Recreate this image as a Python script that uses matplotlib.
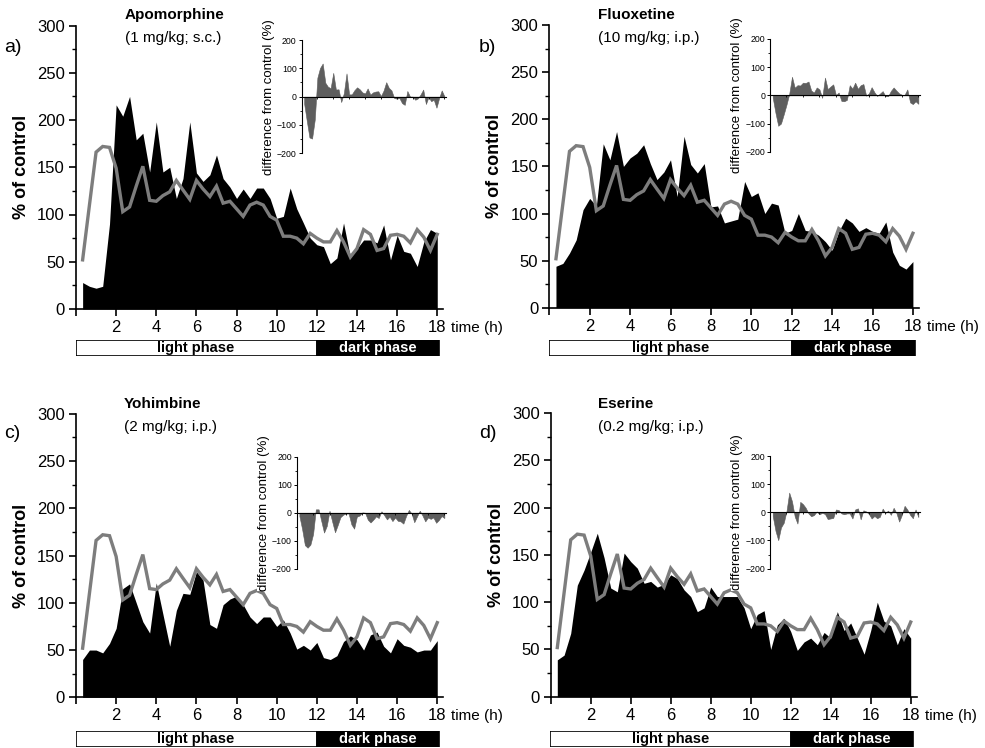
import numpy as np
import matplotlib
matplotlib.use("Agg")
import matplotlib.pyplot as plt
from matplotlib.ticker import MultipleLocator

plt.rcParams['font.family'] = ['Liberation Sans', 'DejaVu Sans']

# ---------------- data ----------------
time_h = [round(0.3333 * (i + 1), 2) for i in range(54)]

control = [52, 110, 166, 172, 171, 149, 103, 108, 130, 151, 115, 114, 120, 124, 136, 126,
           116, 136, 127, 119, 130, 112, 114, 106, 98, 110, 113, 110, 98, 94, 77, 77,
           75, 69, 80, 75, 71, 71, 83, 71, 55, 64, 84, 79, 62, 64, 78, 79, 77, 70,
           84, 76, 62, 79]

apomorphine = [28, 24, 22, 24, 90, 216, 204, 225, 179, 186, 145, 198, 145, 150, 117, 138,
               198, 144, 135, 142, 163, 138, 129, 117, 127, 117, 128, 128, 117, 96, 98, 128,
               106, 91, 75, 68, 66, 48, 54, 91, 55, 64, 73, 73, 70, 89, 52, 78, 61, 59,
               45, 71, 84, 80]

fluoxetine = [44, 47, 58, 72, 104, 116, 108, 174, 157, 187, 150, 159, 164, 173, 153, 136,
              144, 157, 118, 182, 152, 143, 153, 107, 108, 90, 92, 94, 134, 118, 122, 100,
              111, 109, 79, 82, 100, 82, 81, 77, 70, 61, 81, 95, 90, 81, 85, 81, 79, 91,
              59, 45, 41, 49]

yohimbine = [40, 50, 50, 47, 57, 73, 115, 120, 100, 80, 68, 121, 88, 54, 92, 110,
             109, 133, 124, 77, 73, 98, 104, 107, 98, 85, 78, 85, 85, 75, 82, 68,
             51, 55, 50, 58, 42, 40, 44, 59, 65, 61, 50, 66, 69, 54, 47, 62, 55, 53,
             48, 50, 50, 60]

eserine = [39, 44, 67, 118, 134, 153, 173, 147, 115, 111, 152, 143, 136, 120, 122, 116,
           119, 129, 125, 113, 106, 90, 94, 116, 106, 106, 106, 106, 94, 72, 87, 91,
           50, 76, 83, 69, 49, 58, 62, 55, 68, 62, 90, 70, 78, 62, 45, 70, 100, 80,
           75, 55, 72, 62]

panel_letters = ['a)', 'b)', 'c)', 'd)']
drug_names = ['Apomorphine', 'Fluoxetine', 'Yohimbine', 'Eserine']
doses = ['(1 mg/kg; s.c.)', '(10 mg/kg; i.p.)', '(2 mg/kg; i.p.)', '(0.2 mg/kg; i.p.)']
drug_series = [apomorphine, fluoxetine, yohimbine, eserine]
y_ticks = [0, 50, 100, 150, 200, 250, 300]
x_ticks = [0, 2, 4, 6, 8, 10, 12, 14, 16, 18]
x_tick_labels = ['', '2', '4', '6', '8', '10', '12', '14', '16', '18']
inset_ticks = [-200, -100, 0, 100, 200]

# ---------------- layout (pixels) ----------------
W, H = 985, 748
fig = plt.figure(figsize=(W / 100, H / 100), dpi=100)


def add_ax(x0, x1, ytop, ybot):
    return fig.add_axes([x0 / W, 1 - ybot / H, (x1 - x0) / W, (ybot - ytop) / H])


XMAX = 18.3
main_geo = [(76.0, 20.07, 309.0, 25.5),
            (549.3, 20.2, 307.7, 25.1),
            (76.0, 20.07, 697.3, 413.8),
            (550.7, 20.0, 696.7, 413.2)]
bar_geo = [(339.5, 355.5), (339.5, 355.5), (730.5, 746.5), (730.5, 746.5)]
inset_geo = [(301.5, 446, 40.0, 153.3),
             (770.0, 920, 39.0, 151.7),
             (296.7, 446, 456.7, 568.7),
             (770.0, 920, 456.0, 568.6)]
label_pos = [(4, 48), (479, 48), (4, 434), (479, 434)]
title_pos = [(125, 15), (598, 15), (124, 404), (598, 404)]

GRAY = '#7d7d7d'

for k in range(4):
    x0, pxh, y0, yt = main_geo[k]
    ax = add_ax(x0, x0 + XMAX * pxh, yt, y0)
    ax.fill_between(time_h, 0, drug_series[k], color='black', lw=0, zorder=2)
    ax.plot(time_h, control, color=GRAY, lw=2.4, zorder=3, solid_joinstyle='miter')
    ax.set_xlim(0, XMAX)
    ax.set_ylim(0, 300)
    for s in ['top', 'right']:
        ax.spines[s].set_visible(False)
    for s in ['left', 'bottom']:
        ax.spines[s].set_linewidth(1.2)
    ax.set_yticks(y_ticks)
    ax.yaxis.set_minor_locator(MultipleLocator(25))
    ax.set_xticks(x_ticks)
    ax.set_xticklabels(x_tick_labels)
    ax.tick_params(axis='both', which='major', direction='out', length=5, width=1.2,
                   labelsize=12, pad=3)
    ax.tick_params(axis='y', which='minor', direction='out', length=3, width=1.0)
    ax.set_ylabel('% of control', fontsize=13, fontweight='bold', labelpad=5)
    fig.text((x0 + XMAX * pxh + 8) / W, 1 - (y0 + 19) / H, 'time (h)', fontsize=11,
             ha='left', va='center')

    # light / dark phase bar
    bt, bb = bar_geo[k]
    bax = add_ax(x0 - 0.5, x0 + XMAX * pxh, bt, bb)
    bax.set_xlim(0, XMAX)
    bax.set_ylim(0, 1)
    bax.axis('off')
    bax.add_patch(plt.Rectangle((0, 0), 12, 1, facecolor='white', edgecolor='black', lw=1.2))
    bax.add_patch(plt.Rectangle((12, 0), 6.1, 1, facecolor='black', edgecolor='black', lw=1.2))
    bax.text(6, 0.45, 'light phase', ha='center', va='center', fontsize=10.5,
             fontweight='bold', color='black')
    bax.text(15.05, 0.45, 'dark phase', ha='center', va='center', fontsize=10.5,
             fontweight='bold', color='white')

    lx, ly = label_pos[k]
    fig.text(lx / W, 1 - ly / H, panel_letters[k], fontsize=14, ha='left', va='center')
    tx, ty = title_pos[k]
    fig.text(tx / W, 1 - ty / H, drug_names[k], fontsize=11, fontweight='bold',
             ha='left', va='center')
    fig.text(tx / W, 1 - (ty + 23) / H, doses[k], fontsize=11, ha='left', va='center')

    # inset: difference from control
    ix0, ix1, iyt, iyb = inset_geo[k]
    iax = add_ax(ix0, ix1, iyt, iyb)
    diff = np.array(drug_series[k]) - np.array(control)
    iax.fill_between(time_h, 0, diff, color='#5e5e5e', lw=0.4, edgecolor='#5e5e5e')
    iax.set_xlim(0.25, 18.2)
    iax.set_ylim(-200, 200)
    iax.patch.set_alpha(0)
    for s in ['top', 'right']:
        iax.spines[s].set_visible(False)
    iax.spines['left'].set_linewidth(0.8)
    iax.spines['bottom'].set_position(('data', 0))
    iax.spines['bottom'].set_linewidth(0.8)
    iax.set_yticks(inset_ticks)
    iax.yaxis.set_minor_locator(MultipleLocator(50))
    iax.set_xticks(x_ticks)
    iax.set_xticklabels([])
    iax.tick_params(axis='y', which='major', length=2.5, width=0.7, labelsize=6.3, pad=1)
    iax.tick_params(axis='y', which='minor', length=1.5, width=0.6)
    iax.tick_params(axis='x', which='major', length=1.5, width=0.6)
    iax.set_ylabel('difference from control (%)', fontsize=9.5, labelpad=1.5,
                   bbox=dict(facecolor='white', edgecolor='none', pad=0.5))

fig.savefig('out.png', dpi=100)
